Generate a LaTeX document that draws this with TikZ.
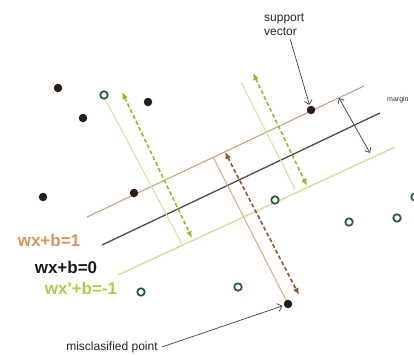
\documentclass[tikz,border=0pt]{standalone}
\usepackage{fontspec}
\setmainfont{Liberation Sans}
\usetikzlibrary{arrows.meta}
\definecolor{dotdark}{HTML}{2B1D16}
\definecolor{ringgreen}{HTML}{1E5C3C}
\definecolor{planeorange}{HTML}{C9A27E}
\definecolor{planeblack}{HTML}{4A4A5A}
\definecolor{planegreen}{HTML}{CFE3A0}
\definecolor{perpgreen}{HTML}{D3E59C}
\definecolor{dashgreen}{HTML}{8CBF2A}
\definecolor{perporange}{HTML}{D7B48C}
\definecolor{dashorange}{HTML}{8A5A30}
\definecolor{lblorange}{HTML}{D8955A}
\definecolor{lblgreen}{HTML}{B4C84A}
\begin{document}
\begin{tikzpicture}[x=1pt,y=-1pt,
  darkdot/.style={circle,fill=dotdark,inner sep=0pt,minimum size=8.5pt},
  ringdot/.style={circle,draw=ringgreen,line width=1.7pt,fill=white,inner sep=0pt,minimum size=7.5pt},
  plane/.style={line width=1.3pt},
  perp/.style={line width=1.1pt},
  dasharrow/.style={line width=1.6pt,dash pattern=on 4pt off 2.5pt,{Latex[length=7pt,width=6pt]}-{Latex[length=7pt,width=6pt]}},
  pointer/.style={draw=black!75,line width=0.7pt,-{Straight Barb[length=4pt,width=8pt]}},
  eqlabel/.style={font=\fontsize{17}{20}\selectfont\bfseries,inner sep=0pt},
  smalltext/.style={font=\fontsize{12}{14}\selectfont,text=black!85,inner sep=0pt}
]
\useasboundingbox (0,0) rectangle (414,354);
\fill[white] (0,0) rectangle (414,354);

% hyperplanes
\coordinate (o1) at (87,217);  \coordinate (o2) at (364,86);
\coordinate (k1) at (102,245); \coordinate (k2) at (380,113);
\coordinate (g1) at (118,275); \coordinate (g2) at (395,147);
\draw[plane,planeorange,line width=1.1pt] (o1) -- (o2);
\draw[plane,planeblack] (k1) -- (k2);
\draw[plane,planegreen,line width=1.5pt] (g1) -- (g2);

% perpendicular lines
\coordinate (p1a) at (104,97);  \coordinate (p1b) at (182,244);
\coordinate (d1a) at (122,92);  \coordinate (d1b) at (192,238);
\coordinate (p2a) at (241,82);  \coordinate (p2b) at (295,189);
\coordinate (d2a) at (253,73);  \coordinate (d2b) at (307,186);
\coordinate (p3a) at (213,157); \coordinate (p3b) at (287,302);
\coordinate (d3a) at (225,152); \coordinate (d3b) at (299,295);
\draw[perp,perpgreen] (p1a) -- (p1b);
\draw[perp,perpgreen] (p2a) -- (p2b);
\draw[perp,perporange] (p3a) -- (p3b);
\draw[dasharrow,dashgreen] (d1a) -- (d1b);
\draw[dasharrow,dashgreen] (d2a) -- (d2b);
\draw[dasharrow,dashorange] (d3a) -- (d3b);

% margin arrow
\coordinate (m1) at (339,98); \coordinate (m2) at (370,153);
\draw[draw=black!70,line width=0.8pt,{Straight Barb[length=4pt,width=7pt]}-{Straight Barb[length=4pt,width=7pt]}] (m1) -- (m2);
\node[anchor=west,font=\fontsize{7}{8}\selectfont,text=black!80,inner sep=0pt] (margin) at (387,100) {margin};

% dark points
\node[darkdot] (a1) at (58,88) {};
\node[darkdot] (a2) at (83,118) {};
\node[darkdot] (a3) at (148,102) {};
\node[darkdot] (a4) at (43,197) {};
\node[darkdot] (a5) at (134,193) {};
\node[darkdot] (sv) at (311,110) {};
\node[darkdot] (mis) at (288,304) {};

% hollow points
\node[ringdot] (b1) at (104,95) {};
\node[ringdot] (b2) at (275,200) {};
\node[ringdot] (b3) at (349,222) {};
\node[ringdot] (b4) at (397,218) {};
\node[ringdot] (b5) at (238,287) {};
\node[ringdot] (b6) at (141,292) {};
\node[ringdot] (b7) at (415,197) {};

% labels
\node[eqlabel,text=lblorange] (l1) at (49,240) {wx+b=1};
\node[eqlabel,text=black!90] (l0) at (66,267) {wx+b=0};
\node[eqlabel,text=lblgreen] (lm) at (81,288) {wx\textquotesingle+b=-1};

% support vector
\node[smalltext,align=left,anchor=north west] (svtext) at (264,14) {support\\vector};
\draw[pointer,shorten >=1pt] ([xshift=6pt,yshift=-3pt]svtext.south) -- (sv);

% misclassified point
\node[smalltext] (mctext) at (112,347) {misclasified point};
\draw[pointer,shorten >=1.5pt] ([xshift=4pt]mctext.east) -- (mis);
\end{tikzpicture}
\end{document}
